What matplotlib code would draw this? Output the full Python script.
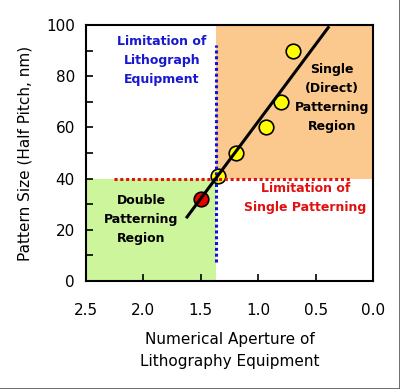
import numpy as np
import matplotlib
matplotlib.use("Agg")
import matplotlib.pyplot as plt
from matplotlib.ticker import MultipleLocator
from matplotlib.patches import Rectangle

# data
na_yellow = [1.35, 1.19, 0.93, 0.80, 0.70]
size_yellow = [41, 50, 60, 70, 90]
na_red = [1.50]
size_red = [32]
fit_na = [1.62, 0.39]
fit_size = [25, 99]

na_limit = 1.37      # limitation of lithograph equipment
size_limit = 40      # limitation of single patterning

fig = plt.figure(figsize=(4.0, 3.89), dpi=100)
ax = fig.add_axes([86/400, 1-281/389, 287/400, 256/389])

# shaded regions
ax.add_patch(Rectangle((na_limit, 0), 2.5-na_limit, size_limit,
                       facecolor="#ccf59c", edgecolor="none", zorder=0))
ax.add_patch(Rectangle((0, size_limit), na_limit, 100-size_limit,
                       facecolor="#fbc98e", edgecolor="none", zorder=0))

# limitation lines
ax.plot([na_limit, na_limit], [7.5, 92], color="#1010e0", lw=2.2,
        ls=(0, (1.0, 0.9)), zorder=4)
ax.plot([2.26, 0.2], [size_limit, size_limit], color="#e01010", lw=2.2,
        ls=(0, (1.0, 0.9)), zorder=4)

# data points and trend line
ax.plot(na_yellow, size_yellow, "o", ms=10.5, mfc="#ffff00", mec="black",
        mew=1.2, zorder=3)
ax.plot(na_red, size_red, "o", ms=10.5, mfc="#ee0000", mec="black",
        mew=1.2, zorder=3)
ax.plot(fit_na, fit_size, color="black", lw=2.2, zorder=5)

ax.set_xlim(2.5, 0.0)
ax.set_ylim(0, 100)
ax.xaxis.set_major_locator(MultipleLocator(0.5))
ax.yaxis.set_major_locator(MultipleLocator(20))
ax.yaxis.set_minor_locator(MultipleLocator(10))
ax.set_xticks(np.arange(0, 2.51, 0.5))
ax.set_xticklabels(["0.0", "0.5", "1.0", "1.5", "2.0", "2.5"])
ax.tick_params(direction="in", which="both", labelsize=11, length=5,
               width=1.2, pad=8)
ax.tick_params(axis="x", pad=16)
for s in ax.spines.values():
    s.set_linewidth(1.5)

ax.set_ylabel("Pattern Size (Half Pitch, nm)", fontsize=11, labelpad=10)
ax.set_xlabel("Numerical Aperture of\nLithography Equipment", fontsize=11,
              labelpad=10, linespacing=1.6)

kw = dict(ha="center", va="center", fontsize=9, fontweight="bold",
          linespacing=1.6, zorder=6)
ax.text(1.84, 86, "Limitation of\nLithograph\nEquipment", color="#1818d0", **kw)
ax.text(0.36, 71.3, "Single\n(Direct)\nPatterning\nRegion", color="black", **kw)
ax.text(0.59, 32.6, "Limitation of\nSingle Patterning", color="#e01010", **kw)
ax.text(2.02, 24.2, "Double\nPatterning\nRegion", color="black", **kw)

# thin grey frame on the right and bottom of the image
fig.add_artist(plt.Line2D([399.5/400, 399.5/400], [0, 1], color="#555555",
                          lw=1.2, transform=fig.transFigure))
fig.add_artist(plt.Line2D([0, 1], [0.5/389, 0.5/389], color="#555555",
                          lw=1.2, transform=fig.transFigure))

fig.savefig("out.png", dpi=100)
